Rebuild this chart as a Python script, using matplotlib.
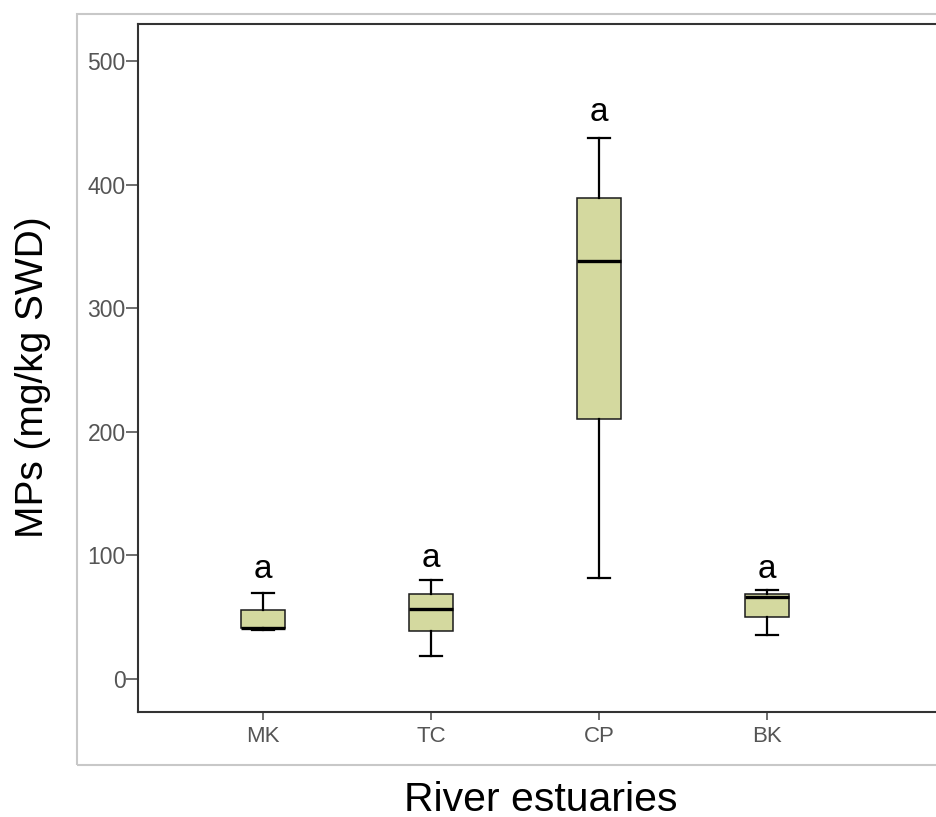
import matplotlib
matplotlib.use("Agg")
import matplotlib.pyplot as plt
from matplotlib.patches import Rectangle

plt.rcParams['font.family'] = ['Liberation Sans', 'DejaVu Sans']

categories = ["MK", "TC", "CP", "BK"]
whislo = [40, 19, 82, 36]
q1 = [41, 39, 210, 50]
med = [41, 57, 338, 66]
q3 = [56, 69, 389, 69]
whishi = [70, 80, 438, 72]
letters = ["a", "a", "a", "a"]
letter_y = [76, 85, 446, 76]
yticks = [0, 100, 200, 300, 400, 500]

fig = plt.figure(figsize=(9.37, 8.17), dpi=100)
fig.patches.append(Rectangle((0.082, 0.0636), 1.0, 0.9193, transform=fig.transFigure,
                             fill=False, edgecolor='#c8c8c8', linewidth=1.5, zorder=0))
ax = fig.add_axes([0.1473, 0.1285, 0.8527, 0.8421])

stats = []
for i, c in enumerate(categories):
    stats.append(dict(label=c, whislo=whislo[i], q1=q1[i], med=med[i], q3=q3[i], whishi=whishi[i], fliers=[]))

pos = list(range(len(categories)))
ax.bxp(stats, positions=pos, widths=0.26, capwidths=0.13, patch_artist=True, showfliers=False,
       boxprops=dict(facecolor='#d4d99f', edgecolor='#1a1a1a', linewidth=1.1),
       medianprops=dict(color='black', linewidth=2.4),
       whiskerprops=dict(color='black', linewidth=1.6),
       capprops=dict(color='black', linewidth=1.6))

for i, t in enumerate(letters):
    ax.text(pos[i], letter_y[i], t, ha='center', va='bottom', fontsize=24, color='black')

ax.set_xlim(-0.744, 4.01)
ax.set_ylim(-26.7, 530)
ax.set_yticks(yticks)
ax.set_yticklabels([str(v) for v in yticks])
ax.set_xticks(pos)
ax.set_xticklabels(categories)
ax.tick_params(axis='y', colors='#555555', labelsize=16.5, length=8.5, width=1.2, direction='out', pad=0.5)
ax.tick_params(axis='x', colors='#555555', labelsize=16, length=6, width=1.2, direction='out', pad=4)
for s in ['left', 'bottom', 'top']:
    ax.spines[s].set_color('#333333')
    ax.spines[s].set_linewidth(1.5)
ax.spines['right'].set_visible(False)

ax.set_ylabel("MPs (mg/kg SWD)", fontsize=28, color='black')
ax.set_xlabel("River estuaries", fontsize=29.5, color='black')
ax.yaxis.set_label_coords(-0.109, 0.487)
ax.xaxis.set_label_coords(0.504, -0.1)

fig.savefig("out.png", dpi=100)
